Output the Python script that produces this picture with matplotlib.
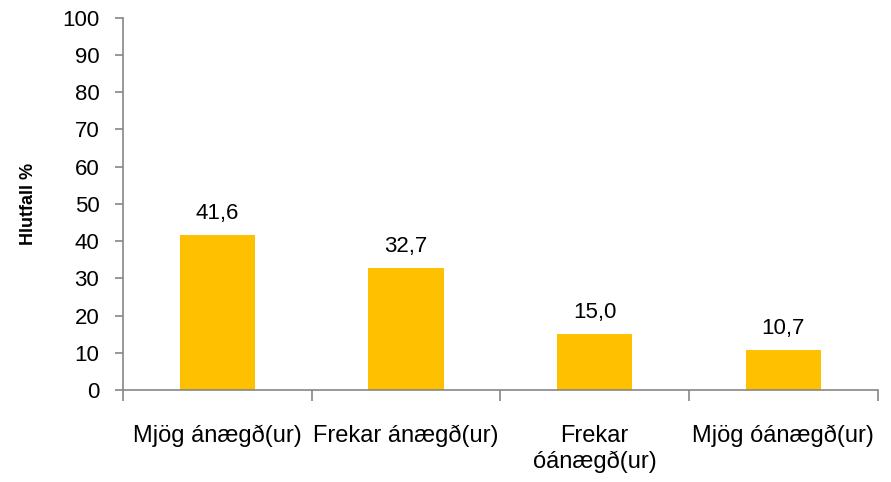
import numpy as np
import matplotlib.pyplot as plt

# data
categories = ["Mjög ánægð(ur)", "Frekar ánægð(ur)", "Frekar\nóánægð(ur)", "Mjög óánægð(ur)"]
values = [41.6, 32.7, 15.0, 10.7]
yticks = np.arange(0, 101, 10)

plt.rcParams['font.family'] = ['Liberation Sans', 'DejaVu Sans']

fig = plt.figure(figsize=(8.91, 4.82), dpi=100)
ax = fig.add_axes([0.138, 0.191, 0.847, 0.772])

x = np.arange(len(categories))
ax.bar(x, values, width=0.4, color='#FFC000')

# value labels above the bars
for xi, v in zip(x, values):
    ax.annotate(f"{v:.1f}".replace('.', ','), (xi, v), xytext=(0, 8),
                textcoords='offset points', ha='center', va='bottom', fontsize=16)

ax.set_xlim(-0.5, len(categories) - 0.5)
ax.set_ylim(0, 100)
ax.set_yticks(yticks)
ax.tick_params(axis='y', labelsize=16, length=6, color='#868686', width=1.2, pad=11)

# major ticks at category boundaries, labels on minor ticks at centres
ax.set_xticks(np.arange(-0.5, len(categories), 1))
ax.set_xticklabels([])
ax.tick_params(axis='x', which='major', length=8, color='#868686', width=1.2)
ax.set_xticks(x, minor=True)
ax.set_xticklabels(categories, minor=True, fontsize=17, linespacing=1.25)
ax.tick_params(axis='x', which='minor', length=0, pad=25)

for s in ['top', 'right']:
    ax.spines[s].set_visible(False)
for s in ['left', 'bottom']:
    ax.spines[s].set_color('#868686')
    ax.spines[s].set_linewidth(1.2)

ax.set_ylabel("Hlutfall %", fontsize=13, fontweight='bold', labelpad=18)

fig.savefig('out.png', dpi=100)
